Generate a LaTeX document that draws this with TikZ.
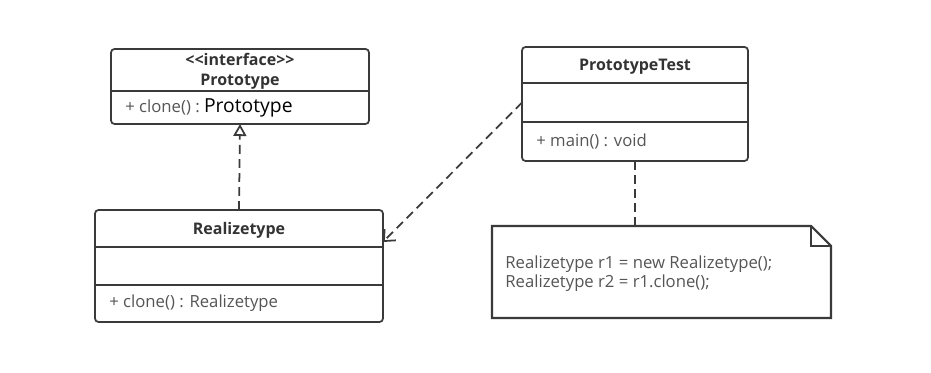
\documentclass[tikz,border=0pt]{standalone}
\usepackage{fontspec}
\setmainfont{Open Sans}
\usepackage{tikz}
\usetikzlibrary{arrows.meta, positioning, calc}
\tikzset{every node/.append style={align=center, inner sep=3pt}}
\definecolor{umlline}{HTML}{3A3A3A}
\definecolor{umltext}{HTML}{555555}
\definecolor{umlhead}{HTML}{333333}

\begin{document}
\begin{tikzpicture}[font=\fontsize{9.5}{11}\selectfont, text=umltext,
    part/.style={rectangle, inner sep=0pt, outer sep=0pt},
    box/.style={draw=umlline, line width=1pt, rounded corners=2pt},
    sep/.style={draw=umlline, line width=1pt},
    hd/.style={font=\fontsize{9.1}{11.2}\selectfont\bfseries, text=umlhead},
    attr/.style={anchor=west, inner sep=0pt},
    link/.style={draw=umlline, line width=1pt, dash pattern=on 5pt off 3pt}]
\useasboundingbox (0,0) rectangle (18.62,7.46);
% Prototype
\node[part, minimum width=5.16cm, minimum height=0.84cm, anchor=north west] (ph) at (2.22,6.48) {};
\node[part, minimum width=5.16cm, minimum height=0.66cm, below=0pt of ph] (pb) {};
\draw[box] (ph.north west) rectangle (pb.south east);
\draw[sep] (pb.north west) -- (pb.north east);
\node[hd] (pht) at ([yshift=-0.02cm]ph.center) {{<}{<}interface{>}{>}\\Prototype};
\node[attr] (pbt) at ([xshift=0.28cm]pb.west) {+ clone() :\ \textcolor{black}{\fontsize{11}{13}\selectfont Prototype}};
% PrototypeTest
\node[part, minimum width=4.52cm, minimum height=0.72cm, anchor=north west] (th) at (10.44,6.52) {};
\node[part, minimum width=4.52cm, minimum height=0.78cm, below=0pt of th] (tm) {};
\node[part, minimum width=4.52cm, minimum height=0.78cm, below=0pt of tm] (tb) {};
\draw[box] (th.north west) rectangle (tb.south east);
\draw[sep] (tm.north west) -- (tm.north east);
\draw[sep] (tb.north west) -- (tb.north east);
\node[hd] (tht) at ([yshift=-0.04cm]th.center) {PrototypeTest};
\node[attr] (tbt) at ([xshift=0.28cm]tb.west) {+ main() : void};
% Realizetype
\node[part, minimum width=5.76cm, minimum height=0.74cm, anchor=north west] (rh) at (1.90,3.26) {};
\node[part, minimum width=5.76cm, minimum height=0.76cm, below=0pt of rh] (rm) {};
\node[part, minimum width=5.76cm, minimum height=0.74cm, below=0pt of rm] (rb) {};
\draw[box] (rh.north west) rectangle (rb.south east);
\draw[sep] (rm.north west) -- (rm.north east);
\draw[sep] (rb.north west) -- (rb.north east);
\node[hd] (rht) at ([yshift=-0.04cm]rh.center) {Realizetype};
\node[attr] (rbt) at ([xshift=0.28cm]rb.west) {+ clone() : Realizetype};
% note
\node[part, minimum width=6.78cm, minimum height=1.84cm, anchor=north west] (note) at (9.84,2.94) {};
\draw[draw=umlline, line width=1.2pt] (note.north west) -- ([xshift=-0.4cm]note.north east)
    -- ([yshift=-0.4cm]note.north east) -- (note.south east) -- (note.south west) -- cycle;
\draw[draw=umlline, line width=1pt] ([xshift=-0.4cm]note.north east) -- ([xshift=-0.4cm, yshift=-0.4cm]note.north east)
    -- ([yshift=-0.4cm]note.north east);
\node[attr, align=left, font=\fontsize{9.5}{10.8}\selectfont] (notet) at ([xshift=0.26cm, yshift=-0.03cm]note.west)
    {Realizetype r1 = new Realizetype();\\Realizetype r2 = r1.clone();};
% links
\draw[link, -{Triangle[open, length=2.4mm, width=2.6mm]}] (rh.north) -- (pb.south);
\draw[link, -{Straight Barb[length=1.8mm, width=3.2mm]}] (tm.west) -- ([yshift=0.1cm]rh.south east);
\draw[link] (tb.south) -- (tb.south |- note.north);
\end{tikzpicture}
\end{document}
